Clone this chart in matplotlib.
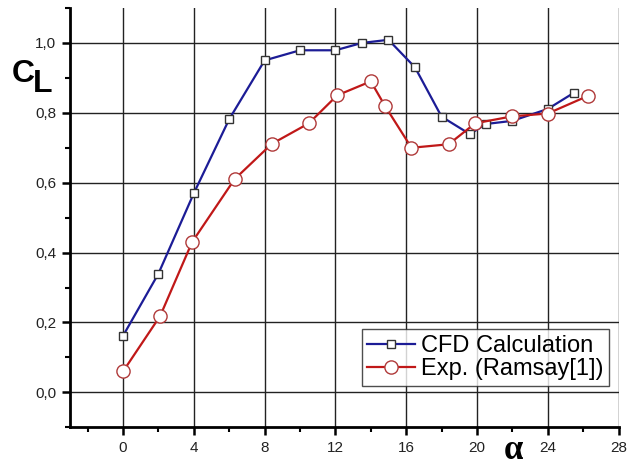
import matplotlib
matplotlib.use("Agg")
import matplotlib.pyplot as plt
from matplotlib.ticker import MultipleLocator, FuncFormatter

alpha_cfd = [0, 2, 4, 6, 8, 10, 12, 13.5, 15, 16.5, 18, 19.6, 20.5, 22, 24, 25.5]
cl_cfd = [0.162, 0.34, 0.57, 0.782, 0.95, 0.979, 0.979, 1.0, 1.009, 0.93, 0.789, 0.739, 0.768, 0.777, 0.811, 0.858]

alpha_exp = [0, 2.1, 3.9, 6.3, 8.4, 10.5, 12.1, 14.0, 14.8, 16.3, 18.4, 19.9, 22.0, 24.0, 26.3]
cl_exp = [0.06, 0.219, 0.43, 0.61, 0.711, 0.77, 0.85, 0.89, 0.82, 0.70, 0.71, 0.77, 0.79, 0.798, 0.849]

plt.rcParams['font.family'] = ['Liberation Sans', 'DejaVu Sans']

fig = plt.figure(figsize=(6.28, 4.67), dpi=100)
ax = fig.add_axes([70/628, 1-427.3/467, (618.5-70)/628, (427.3-8)/467])

ax.plot(alpha_cfd, cl_cfd, color='#1c1c96', lw=1.6, marker='s', ms=6.2,
        mfc='white', mec='#333333', mew=1.0, label='CFD Calculation', zorder=3)
ax.plot(alpha_exp, cl_exp, color='#c01818', lw=1.6, marker='o', ms=9.5,
        mfc='white', mec='#b03a3a', mew=1.0, label='Exp. (Ramsay[1])', zorder=3)

ax.set_xlim(-3, 28)
ax.set_ylim(-0.1, 1.1)
ax.xaxis.set_major_locator(MultipleLocator(4))
ax.xaxis.set_minor_locator(MultipleLocator(2))
ax.yaxis.set_major_locator(MultipleLocator(0.2))
ax.yaxis.set_minor_locator(MultipleLocator(0.1))
ax.yaxis.set_major_formatter(FuncFormatter(lambda v, p: f"{v:.1f}".replace('.', ',').replace('-0,0', '0,0')))
ax.xaxis.set_major_formatter(FuncFormatter(lambda v, p: f"{v:.0f}"))

ax.grid(True, which='major', color='#222222', lw=1.0)
ax.set_axisbelow(True)
for s in ['top', 'right']:
    ax.spines[s].set_visible(False)
for s in ['left', 'bottom']:
    ax.spines[s].set_linewidth(2.0)
    ax.spines[s].set_color('black')

ax.tick_params(which='major', direction='out', length=6, width=1.8, labelsize=11, colors='black', pad=4)
ax.tick_params(which='minor', direction='out', length=3.5, width=1.5, colors='black')
for lbl in ax.get_xticklabels() + ax.get_yticklabels():
    lbl.set_color('#222222')

leg = ax.legend(loc='lower right', bbox_to_anchor=(1 - (618.5-609)/548.5, (427.3-386)/419.3),
                fontsize=17, frameon=True, fancybox=False, borderpad=0.25,
                handlelength=2.0, handletextpad=0.25, labelspacing=0.05, borderaxespad=0)
leg.get_frame().set_edgecolor('#222222')
leg.get_frame().set_linewidth(1.0)

fig.text(12/628, 1-82/467, 'C', fontsize=23, fontweight='bold', ha='left', va='baseline')
fig.text(33/628, 1-92/467, 'L', fontsize=23, fontweight='bold', ha='left', va='baseline')
fig.text(513/628, 1-459/467, 'α', fontsize=25, fontweight='bold', ha='center', va='baseline',
         family=['Liberation Serif', 'DejaVu Serif'])

fig.savefig('out.png', dpi=100)
